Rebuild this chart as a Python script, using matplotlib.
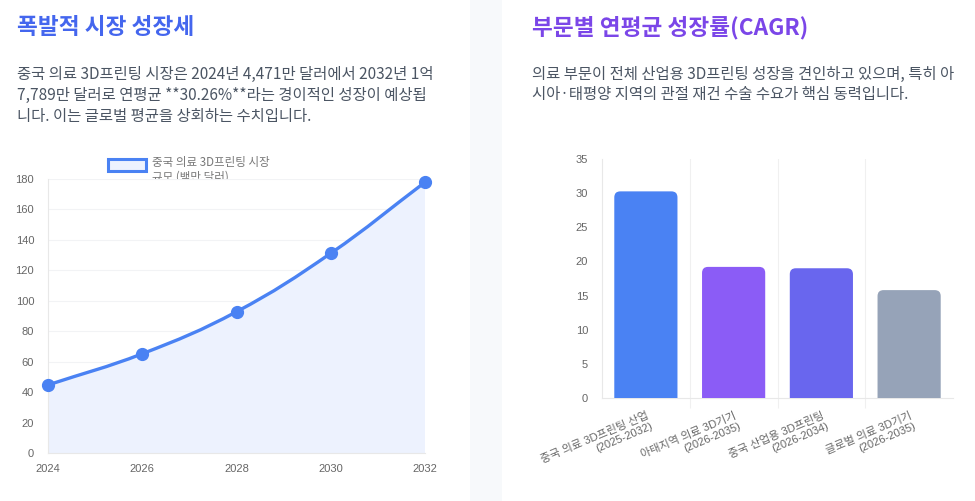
import matplotlib
matplotlib.use('Agg')
import numpy as np
import matplotlib.pyplot as plt
from matplotlib.path import Path
from matplotlib.patches import PathPatch, FancyBboxPatch, Rectangle
from matplotlib.transforms import Bbox

# ---- data ----
years = ['2024', '2026', '2028', '2030', '2032']
market_size = [44.71, 65.2, 92.8, 131.2, 177.89]
legend_label = ['중국 의료 3D프린팅 시장', '규모 (백만 달러)']

segments = ['중국 의료 3D프린팅 산업\n(2025-2032)',
            '아태지역 의료 3D기기\n(2026-2035)',
            '중국 산업용 3D프린팅\n(2026-2034)',
            '글로벌 의료 3D기기\n(2026-2035)']
cagr = [30.26, 19.2, 19.0, 15.8]
bar_colors = ['#4a82f3', '#8b5cf6', '#6966ee', '#96a3b8']

left_title = '폭발적 시장 성장세'
left_body = ['중국 의료 3D프린팅 시장은 2024년 4,471만 달러에서 2032년 1억',
             '7,789만 달러로 연평균 **30.26%**라는 경이적인 성장이 예상됩',
             '니다. 이는 글로벌 평균을 상회하는 수치입니다.']
right_title = '부문별 연평균 성장률(CAGR)'
right_body = ['의료 부문이 전체 산업용 3D프린팅 성장을 견인하고 있으며, 특히 아',
              '시아·태평양 지역의 관절 재건 수술 수요가 핵심 동력입니다.']

KR = ['Noto Sans CJK KR', 'DejaVu Sans']
TICK = ['Liberation Sans', 'Noto Sans CJK KR', 'DejaVu Sans']
plt.rcParams['font.family'] = KR

W, H = 975, 501
fig = plt.figure(figsize=(W / 100, H / 100), dpi=100)
fig.patch.set_facecolor('white')


def fx(x):
    return x / W


def fy(y):
    return 1 - y / H


def axes_px(x0, y0, x1, y1):
    return fig.add_axes([fx(x0), fy(y1), (x1 - x0) / W, (y1 - y0) / H])


# gap strip between the two cards
fig.patches.append(Rectangle((fx(470), 0), (502 - 470) / W, 1, transform=fig.transFigure,
                             facecolor='#f7f9fb', edgecolor='none', zorder=0))

# ---- headings and paragraphs ----
fig.text(fx(17), fy(28), left_title, fontsize=16.3, fontweight='bold', color='#4466ee',
         va='center', ha='left')
for i, line in enumerate(left_body):
    fig.text(fx(17), fy(74 + 21 * i), line, fontsize=11.1, color='#4b5563', va='center', ha='left')

fig.text(fx(532), fy(28), right_title, fontsize=16.3, fontweight='bold', color='#7b46e8',
         va='center', ha='left')
for i, line in enumerate(right_body):
    fig.text(fx(532), fy(74 + 21 * i), line, fontsize=11.1, color='#4b5563', va='center', ha='left')


# ---- line chart ----
def smooth_path(xs, ys, sx, sy, t=0.4):
    pts = np.column_stack([np.asarray(xs, float) * sx, np.asarray(ys, float) * sy])
    n = len(pts)
    cps = []
    for i in range(n):
        p0 = pts[max(i - 1, 0)]
        p1 = pts[i]
        p2 = pts[min(i + 1, n - 1)]
        d01 = np.hypot(*(p1 - p0))
        d12 = np.hypot(*(p2 - p1))
        s = d01 + d12
        fa = t * d01 / s if s else 0
        fb = t * d12 / s if s else 0
        cps.append((p1 - fa * (p2 - p0), p1 + fb * (p2 - p0)))
    verts = [pts[0]]
    codes = [Path.MOVETO]
    for i in range(1, n):
        verts += [cps[i - 1][1], cps[i][0], pts[i]]
        codes += [Path.CURVE4] * 3
    verts = np.array(verts) / [sx, sy]
    return verts, codes


ax1 = axes_px(48, 179, 425, 453)
xs = np.arange(len(years))
ax1.set_xlim(0, len(years) - 1)
ax1.set_ylim(0, 180)
verts, codes = smooth_path(xs, market_size, 377 / 4, 274 / 180)
fill_verts = np.vstack([verts, [[xs[-1], 0], [xs[0], 0], verts[0]]])
fill_codes = codes + [Path.LINETO, Path.LINETO, Path.CLOSEPOLY]
ax1.add_patch(PathPatch(Path(fill_verts, fill_codes), facecolor='#edf2fe', edgecolor='none', zorder=1))
ax1.add_patch(PathPatch(Path(verts, codes), facecolor='none', edgecolor='#4a82f3', lw=2.4,
                        capstyle='round', zorder=3))
ax1.plot(xs, market_size, 'o', color='#4a82f3', markersize=8.5, clip_on=False, zorder=4)

ax1.set_xticks(xs)
ax1.set_xticklabels(years)
ax1.set_yticks(range(0, 181, 20))
ax1.grid(axis='y', color='#f2f3f5', lw=0.8, zorder=0)
ax1.set_axisbelow(True)
for side in ['top', 'right']:
    ax1.spines[side].set_visible(False)
for side in ['left', 'bottom']:
    ax1.spines[side].set_color('#e8e8e8')
    ax1.spines[side].set_linewidth(0.8)
ax1.tick_params(length=0, labelsize=8, labelcolor='#666666')
ax1.tick_params(axis='y', pad=10)
ax1.tick_params(axis='x', pad=8)
for lab in ax1.get_xticklabels() + ax1.get_yticklabels():
    lab.set_family(TICK)

# legend box drawn like the chart legend
fig.patches.append(Rectangle((fx(108), fy(171)), 38 / W, 12 / H, transform=fig.transFigure,
                             facecolor='#edf2fe', edgecolor='#4a82f3', lw=2.2, zorder=5))
fig.text(fx(152), fy(163), legend_label[0], fontsize=8.3, color='#777777', va='center', ha='left')
t2 = fig.text(fx(152), fy(177), legend_label[1], fontsize=8.3, color='#777777', va='center', ha='left')
t2.set_clip_box(Bbox.from_extents(0, H - 179, W, H))
t2.set_clip_on(True)

# ---- bar chart ----
ax2 = axes_px(602, 159, 953, 398)
pos = np.arange(len(segments))
ax2.set_xlim(-0.5, len(segments) - 0.5)
ax2.set_ylim(0, 35)
bars = ax2.bar(pos, cagr, width=0.72, color=bar_colors)
# round the top corners like the reference
x_per_px = 4 / 351
y_per_px = 35 / 239
r = 6 * x_per_px
for b, c in zip(bars, bar_colors):
    b.set_visible(False)
    x0 = b.get_x()
    ax2.add_patch(FancyBboxPatch((x0, -2), b.get_width(), b.get_height() + 2,
                                 boxstyle=f'round,pad=0,rounding_size={r}',
                                 mutation_aspect=y_per_px / x_per_px,
                                 facecolor=c, edgecolor='none', zorder=3))

ax2.set_yticks(range(0, 36, 5))
ax2.set_xticks(pos)
ax2.set_xticklabels(segments, rotation=23, ha='right', rotation_mode='anchor',
                    multialignment='right')
ax2.set_xticks(pos[:-1] + 0.5, minor=True)
ax2.grid(axis='x', which='minor', color='#f0f0f0', lw=0.8, zorder=0)
ax2.set_axisbelow(True)
for side in ['top', 'right']:
    ax2.spines[side].set_visible(False)
for side in ['left', 'bottom']:
    ax2.spines[side].set_color('#e8e8e8')
    ax2.spines[side].set_linewidth(0.8)
ax2.tick_params(axis='both', which='major', length=0, labelsize=8, labelcolor='#666666')
ax2.tick_params(axis='x', which='minor', length=7, color='#f0f0f0', width=0.8)
ax2.tick_params(axis='y', pad=10)
ax2.tick_params(axis='x', which='major', pad=9)
for lab in ax2.get_xticklabels() + ax2.get_yticklabels():
    lab.set_family(TICK)

fig.savefig('out.png', dpi=100, facecolor='white')
